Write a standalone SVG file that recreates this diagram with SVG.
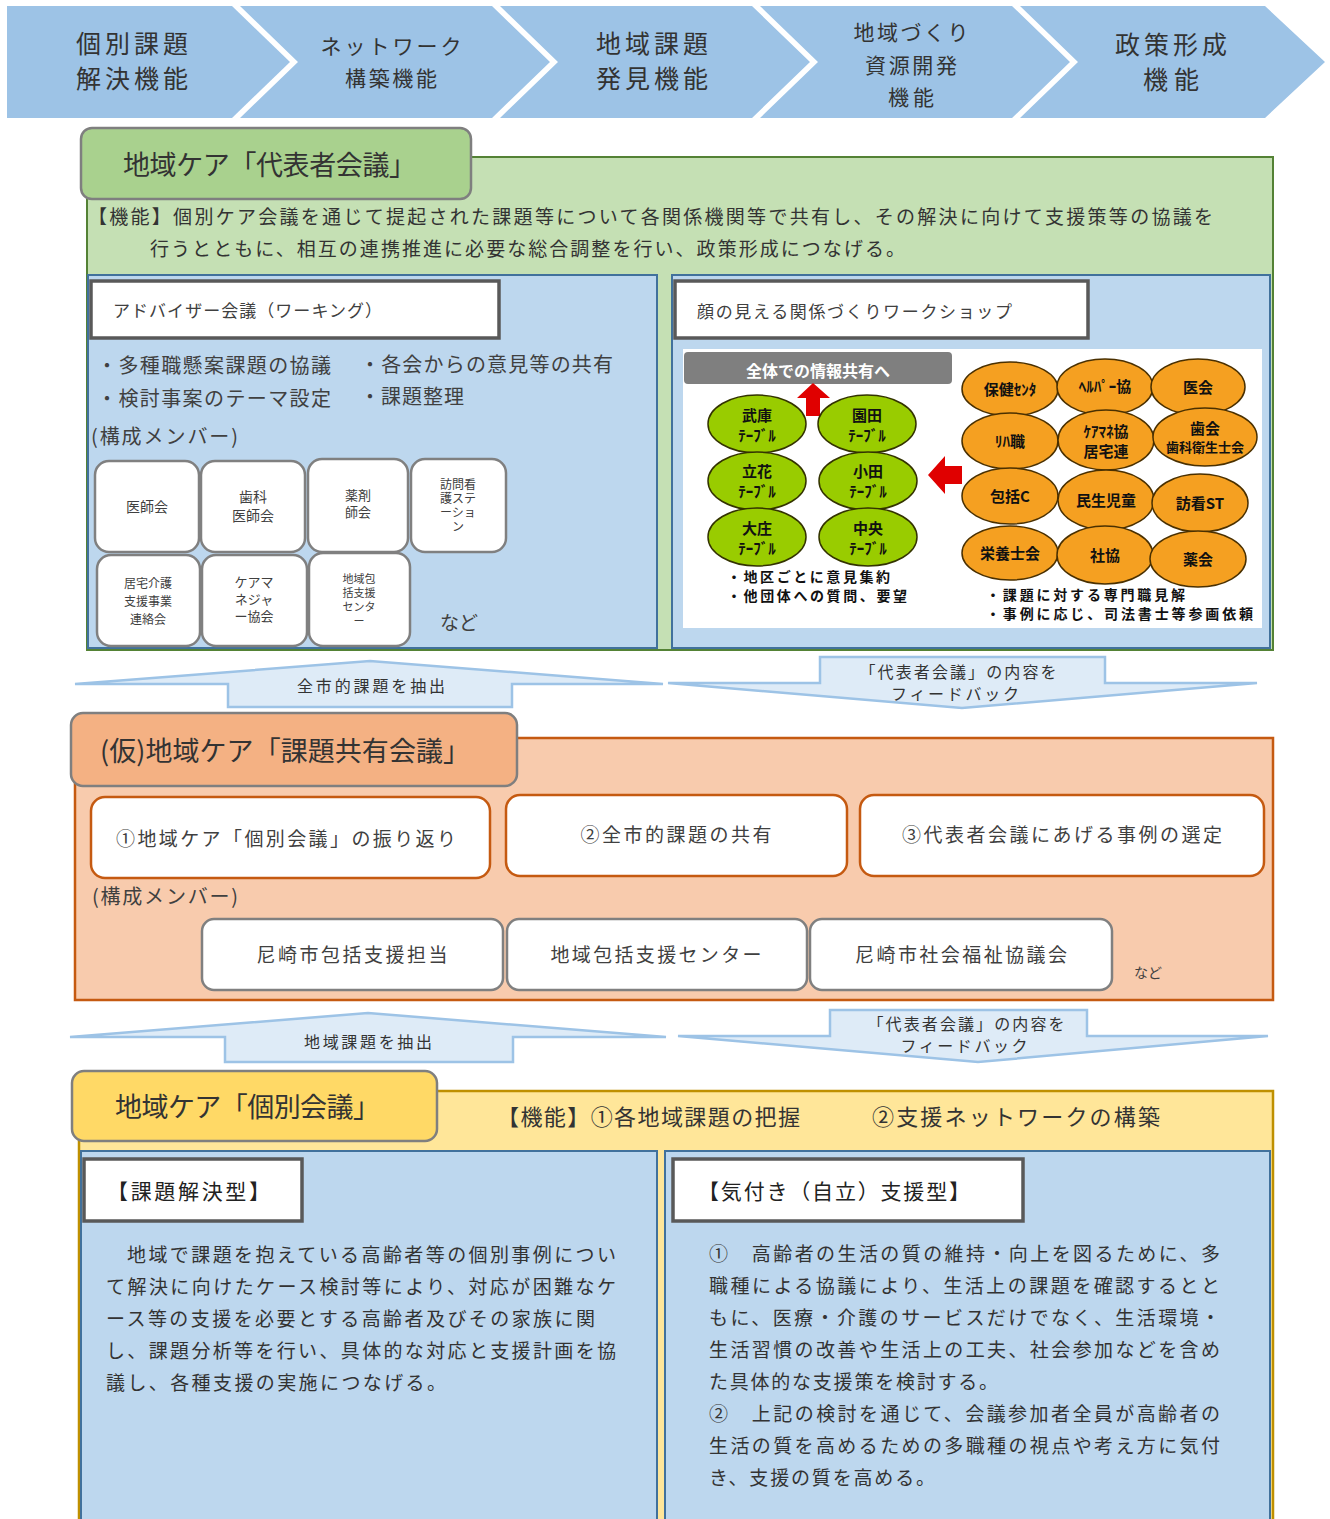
<svg xmlns="http://www.w3.org/2000/svg" width="1330" height="1519" viewBox="0 0 1330 1519">
<style>
text{font-family:"Noto Sans CJK JP","Noto Sans",sans-serif;fill:#404040}
.chev{fill:#9DC3E6}
.ct{font-size:25px;fill:#333;text-anchor:middle}
.cs{font-size:21px;fill:#333;text-anchor:middle}
.hdr{font-size:27px;fill:#333}
.body{font-size:19px;fill:#333}
.panel{fill:#BDD7EE;stroke:#41719C;stroke-width:2}
.lbl{fill:#fff;stroke:#595959;stroke-width:3.5}
.mem{fill:#fff;stroke:#808080;stroke-width:2.5}
.om{fill:#fff;stroke:#C55A11;stroke-width:2.5}
.mt{text-anchor:middle;fill:#404040}
.blk{fill:#DEEBF7;stroke:#9DC3E6;stroke-width:2.5}
.at{font-size:16px;text-anchor:middle;fill:#333}
.ge{fill:#99CC00;stroke:#333300;stroke-width:1.5}
.oe{fill:#F5A021;stroke:#4a3000;stroke-width:1.5}
.it{font-size:15px;font-weight:bold;fill:#111;text-anchor:middle}
.in{font-size:14px;font-weight:bold;fill:#111}
</style>

<g id="chevrons">
<polygon class="chev" points="7,6 232,6 290,62 232,118 7,118"/>
<polygon class="chev" points="240,6 492,6 550,62 492,118 240,118 298,62"/>
<polygon class="chev" points="500,6 752,6 810,62 752,118 500,118 558,62"/>
<polygon class="chev" points="760,6 1012,6 1070,62 1012,118 760,118 818,62"/>
<polygon class="chev" points="1020,6 1265,6 1325,62 1265,118 1020,118 1078,62"/>
<text class="ct" x="132" y="53" textLength="112" lengthAdjust="spacing">個別課題</text>
<text class="ct" x="132" y="88" textLength="112" lengthAdjust="spacing">解決機能</text>
<text class="cs" x="391" y="54" textLength="141" lengthAdjust="spacing">ネットワーク</text>
<text class="cs" x="391" y="86" textLength="92" lengthAdjust="spacing">構築機能</text>
<text class="ct" x="652" y="53" textLength="112" lengthAdjust="spacing">地域課題</text>
<text class="ct" x="652" y="88" textLength="112" lengthAdjust="spacing">発見機能</text>
<text class="cs" x="911" y="40" textLength="115" lengthAdjust="spacing">地域づくり</text>
<text class="cs" x="911" y="73" textLength="92" lengthAdjust="spacing">資源開発</text>
<text class="cs" x="911" y="105" textLength="46" lengthAdjust="spacing">機能</text>
<text class="ct" x="1171" y="54" textLength="112" lengthAdjust="spacing">政策形成</text>
<text class="ct" x="1171" y="89" textLength="56" lengthAdjust="spacing">機能</text>
</g>

<g id="representative-meeting">
<rect x="87" y="157" width="1186" height="493" fill="#C5E0B4" stroke="#548235" stroke-width="2"/>
<rect x="81" y="128" width="390" height="71" rx="11" fill="#A9D18E" stroke="#7F7F7F" stroke-width="2.5"/>
<text class="hdr" x="123" y="175" textLength="293" lengthAdjust="spacing">地域ケア「代表者会議」</text>
<text class="body" x="88" y="224" textLength="1125" lengthAdjust="spacing">【機能】個別ケア会議を通じて提起された課題等について各関係機関等で共有し、その解決に向けて支援策等の協議を</text>
<text class="body" x="150" y="256" textLength="755" lengthAdjust="spacing">行うとともに、相互の連携推進に必要な総合調整を行い、政策形成につなげる。</text>
</g>

<g id="adviser-panel">
<rect class="panel" x="88" y="275" width="569" height="373"/>
<rect class="lbl" x="91" y="281" width="408" height="57"/>
<text x="113" y="317" font-size="17" textLength="269" lengthAdjust="spacing">アドバイザー会議（ワーキング）</text>
<text x="97" y="373" font-size="20" textLength="234" lengthAdjust="spacing">・多種職懸案課題の協議</text>
<text x="360" y="372" font-size="20" textLength="253" lengthAdjust="spacing">・各会からの意見等の共有</text>
<text x="97" y="406" font-size="20" textLength="234" lengthAdjust="spacing">・検討事案のテーマ設定</text>
<text x="360" y="404" font-size="20" textLength="104" lengthAdjust="spacing">・課題整理</text>
<text x="91" y="444" font-size="20" textLength="147" lengthAdjust="spacing">(構成メンバー)</text>
</g>

<g id="member-ishikai"><rect class="mem" x="95" y="461" width="104" height="91" rx="14"/><text class="mt" x="147" y="512" font-size="14">医師会</text></g>
<g id="member-shika"><rect class="mem" x="201" y="461" width="104" height="91" rx="14"/><text class="mt" x="253" y="502" font-size="14">歯科</text><text class="mt" x="253" y="521" font-size="14">医師会</text></g>
<g id="member-yakuzai"><rect class="mem" x="308" y="459" width="100" height="93" rx="14"/><text class="mt" x="358" y="500" font-size="13">薬剤</text><text class="mt" x="358" y="517" font-size="13">師会</text></g>
<g id="member-houkan"><rect class="mem" x="411" y="459" width="95" height="93" rx="14"/><text class="mt" x="458" y="489" font-size="12">訪問看</text><text class="mt" x="458" y="503" font-size="12">護ステ</text><text class="mt" x="458" y="517" font-size="12">ーショ</text><text class="mt" x="458" y="531" font-size="12">ン</text></g>
<g id="member-kyotaku"><rect class="mem" x="97" y="555" width="103" height="91" rx="14"/><text class="mt" x="148" y="588" font-size="12">居宅介護</text><text class="mt" x="148" y="606" font-size="12">支援事業</text><text class="mt" x="148" y="624" font-size="12">連絡会</text></g>
<g id="member-caremanager"><rect class="mem" x="202" y="555" width="105" height="91" rx="14"/><text class="mt" x="254" y="587" font-size="13">ケアマ</text><text class="mt" x="254" y="604" font-size="13">ネジャ</text><text class="mt" x="254" y="621" font-size="13">ー協会</text></g>
<g id="member-houkatsu"><rect class="mem" x="309" y="553" width="101" height="93" rx="14"/><text class="mt" x="359" y="583" font-size="11">地域包</text><text class="mt" x="359" y="597" font-size="11">括支援</text><text class="mt" x="359" y="611" font-size="11">センタ</text><text class="mt" x="359" y="625" font-size="11">ー</text></g>
<text x="440" y="630" font-size="19">など</text>

<g id="workshop-panel">
<rect class="panel" x="672" y="275" width="598" height="373"/>
<rect class="lbl" x="675" y="281" width="413" height="57"/>
<text x="697" y="318" font-size="17" textLength="315" lengthAdjust="spacing">顔の見える関係づくりワークショップ</text>
<rect x="683" y="349" width="579" height="279" fill="#fff"/>
<rect x="684" y="352" width="268" height="32" rx="4" fill="#7F7F7F"/>
<text x="818" y="377" font-size="16" font-weight="bold" text-anchor="middle" style="fill:#fff">全体での情報共有へ</text>
<polygon points="806,416 820,416 820,398 830,398 813,383 797,398 806,398" fill="#E00000"/>
<polygon points="962,466 945,466 945,456 928,475 945,494 945,484 962,484" fill="#E00000"/>
<ellipse class="ge" cx="757" cy="424" rx="49" ry="29"/><text class="it" x="757" y="421">武庫</text><text class="it" x="757" y="441">ﾃｰﾌﾞﾙ</text>
<ellipse class="ge" cx="867" cy="424" rx="49" ry="29"/><text class="it" x="867" y="421">園田</text><text class="it" x="867" y="441">ﾃｰﾌﾞﾙ</text>
<ellipse class="ge" cx="757" cy="481" rx="49" ry="29"/><text class="it" x="757" y="477">立花</text><text class="it" x="757" y="497">ﾃｰﾌﾞﾙ</text>
<ellipse class="ge" cx="868" cy="481" rx="49" ry="29"/><text class="it" x="868" y="477">小田</text><text class="it" x="868" y="497">ﾃｰﾌﾞﾙ</text>
<ellipse class="ge" cx="757" cy="537" rx="49" ry="29"/><text class="it" x="757" y="534">大庄</text><text class="it" x="757" y="554">ﾃｰﾌﾞﾙ</text>
<ellipse class="ge" cx="868" cy="537" rx="49" ry="29"/><text class="it" x="868" y="534">中央</text><text class="it" x="868" y="554">ﾃｰﾌﾞﾙ</text>
<text class="in" x="727" y="582" textLength="163" lengthAdjust="spacing">・地区ごとに意見集約</text>
<text class="in" x="727" y="601" textLength="180" lengthAdjust="spacing">・他団体への質問、要望</text>
<ellipse class="oe" cx="1010" cy="389" rx="48" ry="27"/><text class="it" x="1010" y="395">保健ｾﾝﾀ</text>
<ellipse class="oe" cx="1105" cy="387" rx="48" ry="28"/><text class="it" x="1105" y="392">ﾍﾙﾊﾟｰ協</text>
<ellipse class="oe" cx="1198" cy="387" rx="47" ry="28"/><text class="it" x="1198" y="393">医会</text>
<ellipse class="oe" cx="1010" cy="441" rx="48" ry="28"/><text class="it" x="1010" y="447">ﾘﾊ職</text>
<ellipse class="oe" cx="1106" cy="440" rx="48" ry="30"/><text class="it" x="1106" y="437">ｹｱﾏﾈ協</text><text class="it" x="1106" y="457">居宅連</text>
<ellipse class="oe" cx="1205" cy="437" rx="52" ry="29"/><text class="it" x="1205" y="434">歯会</text><text class="it" x="1205" y="452" style="font-size:13px">歯科衛生士会</text>
<ellipse class="oe" cx="1010" cy="496" rx="48" ry="28"/><text class="it" x="1010" y="502">包括C</text>
<ellipse class="oe" cx="1106" cy="500" rx="48" ry="30"/><text class="it" x="1106" y="506">民生児童</text>
<ellipse class="oe" cx="1200" cy="503" rx="48" ry="29"/><text class="it" x="1200" y="509">訪看ST</text>
<ellipse class="oe" cx="1010" cy="553" rx="48" ry="27"/><text class="it" x="1010" y="559">栄養士会</text>
<ellipse class="oe" cx="1105" cy="555" rx="48" ry="29"/><text class="it" x="1105" y="561">社協</text>
<ellipse class="oe" cx="1198" cy="559" rx="48" ry="28"/><text class="it" x="1198" y="565">薬会</text>
<text class="in" x="986" y="600" textLength="199" lengthAdjust="spacing">・課題に対する専門職見解</text>
<text class="in" x="986" y="619" textLength="267" lengthAdjust="spacing">・事例に応じ、司法書士等参画依頼</text>
</g>

<g id="connectors">
<polygon class="blk" points="228,707 228,684 75,684 370,661 663,684 512,684 512,707"/>
<text class="at" x="371" y="692" textLength="148" lengthAdjust="spacing">全市的課題を抽出</text>
<polygon class="blk" points="820,657 1105,657 1105,683 1257,683 962,708 668,683 820,683"/>
<text class="at" x="958" y="678" textLength="197" lengthAdjust="spacing">「代表者会議」の内容を</text>
<text class="at" x="955" y="700" textLength="128" lengthAdjust="spacing">フィードバック</text>
<polygon class="blk" points="225,1062 225,1037 70,1037 368,1013 666,1037 513,1037 513,1062"/>
<text class="at" x="368" y="1048" textLength="128" lengthAdjust="spacing">地域課題を抽出</text>
<polygon class="blk" points="830,1010 1087,1010 1087,1036 1268,1036 978,1062 678,1036 830,1036"/>
<text class="at" x="966" y="1030" textLength="197" lengthAdjust="spacing">「代表者会議」の内容を</text>
<text class="at" x="964" y="1052" textLength="127" lengthAdjust="spacing">フィードバック</text>
</g>

<g id="issue-sharing-meeting">
<rect x="75" y="738" width="1198" height="262" fill="#F8CBAD" stroke="#C55A11" stroke-width="2.5"/>
<rect x="71" y="713" width="446" height="73" rx="12" fill="#F4B183" stroke="#7F7F7F" stroke-width="2.5"/>
<text class="hdr" x="100" y="761" textLength="370" lengthAdjust="spacing">(仮)地域ケア「課題共有会議」</text>
</g>
<g id="step1"><rect class="om" x="91" y="797" width="399" height="81" rx="14"/><text class="mt" x="286" y="846" font-size="19" textLength="340" lengthAdjust="spacing">①地域ケア「個別会議」の振り返り</text></g>
<g id="step2"><rect class="om" x="506" y="795" width="341" height="81" rx="14"/><text class="mt" x="676" y="842" font-size="19" textLength="191" lengthAdjust="spacing">②全市的課題の共有</text></g>
<g id="step3"><rect class="om" x="860" y="795" width="404" height="81" rx="14"/><text class="mt" x="1062" y="842" font-size="19" textLength="320" lengthAdjust="spacing">③代表者会議にあげる事例の選定</text></g>
<text x="92" y="904" font-size="20" textLength="146" lengthAdjust="spacing">(構成メンバー)</text>
<g id="member-city"><rect class="mem" x="202" y="919" width="301" height="71" rx="12"/><text class="mt" x="352" y="962" font-size="19" textLength="191" lengthAdjust="spacing">尼崎市包括支援担当</text></g>
<g id="member-center"><rect class="mem" x="507" y="919" width="300" height="71" rx="12"/><text class="mt" x="656" y="962" font-size="19" textLength="211" lengthAdjust="spacing">地域包括支援センター</text></g>
<g id="member-shakyo"><rect class="mem" x="810" y="919" width="302" height="71" rx="12"/><text class="mt" x="961" y="962" font-size="19" textLength="212" lengthAdjust="spacing">尼崎市社会福祉協議会</text></g>
<text x="1134" y="978" font-size="14">など</text>

<g id="individual-meeting">
<rect x="79" y="1091" width="1194" height="440" fill="#FFE699" stroke="#BF9000" stroke-width="2.5"/>
<rect x="72" y="1071" width="365" height="70" rx="12" fill="#FFD966" stroke="#7F7F7F" stroke-width="2.5"/>
<text class="hdr" x="115" y="1117" textLength="265" lengthAdjust="spacing">地域ケア「個別会議」</text>
<text x="497" y="1125" font-size="22" style="fill:#333" textLength="303" lengthAdjust="spacing">【機能】①各地域課題の把握</text>
<text x="872" y="1125" font-size="22" style="fill:#333" textLength="288" lengthAdjust="spacing">②支援ネットワークの構築</text>
</g>

<g id="problem-solving">
<rect class="panel" x="81" y="1151" width="576" height="380"/>
<rect class="lbl" x="84" y="1159" width="218" height="62"/>
<text x="107" y="1199" font-size="21" style="fill:#222" textLength="163" lengthAdjust="spacing">【課題解決型】</text>
<text class="body" x="127" y="1262" textLength="489" lengthAdjust="spacing">地域で課題を抱えている高齢者等の個別事例につい</text>
<text class="body" x="106" y="1294" textLength="510" lengthAdjust="spacing">て解決に向けたケース検討等により、対応が困難なケ</text>
<text class="body" x="106" y="1326" textLength="489" lengthAdjust="spacing">ース等の支援を必要とする高齢者及びその家族に関</text>
<text class="body" x="106" y="1358" textLength="510" lengthAdjust="spacing">し、課題分析等を行い、具体的な対応と支援計画を協</text>
<text class="body" x="106" y="1390" textLength="340" lengthAdjust="spacing">議し、各種支援の実施につなげる。</text>
</g>

<g id="awareness-support">
<rect class="panel" x="665" y="1151" width="605" height="380"/>
<rect class="lbl" x="673" y="1159" width="350" height="62"/>
<text x="698" y="1199" font-size="21" style="fill:#222" textLength="272" lengthAdjust="spacing">【気付き（自立）支援型】</text>
<text class="body" x="709" y="1261" textLength="511" lengthAdjust="spacing">①　高齢者の生活の質の維持・向上を図るために、多</text>
<text class="body" x="709" y="1293" textLength="511" lengthAdjust="spacing">職種による協議により、生活上の課題を確認するとと</text>
<text class="body" x="709" y="1325" textLength="511" lengthAdjust="spacing">もに、医療・介護のサービスだけでなく、生活環境・</text>
<text class="body" x="709" y="1357" textLength="511" lengthAdjust="spacing">生活習慣の改善や生活上の工夫、社会参加などを含め</text>
<text class="body" x="709" y="1389" textLength="289" lengthAdjust="spacing">た具体的な支援策を検討する。</text>
<text class="body" x="709" y="1421" textLength="511" lengthAdjust="spacing">②　上記の検討を通じて、会議参加者全員が高齢者の</text>
<text class="body" x="709" y="1453" textLength="511" lengthAdjust="spacing">生活の質を高めるための多職種の視点や考え方に気付</text>
<text class="body" x="709" y="1485" textLength="226" lengthAdjust="spacing">き、支援の質を高める。</text>
</g>
</svg>
